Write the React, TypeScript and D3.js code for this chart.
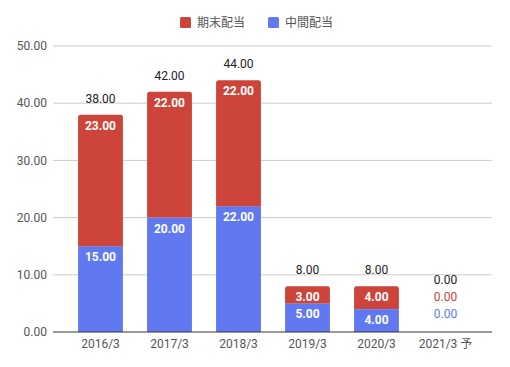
import React from 'react';
import * as d3 from 'd3';

const categories = ['2016/3', '2017/3', '2018/3', '2019/3', '2020/3', '2021/3 予'];
const interim = [15, 20, 22, 5, 4, 0]; // 中間配当
const yearEnd = [23, 22, 22, 3, 4, 0]; // 期末配当
const yTicks = [0, 10, 20, 30, 40, 50];

const RED = '#cc443a';
const BLUE = '#6079f1';
const FONT = 'Roboto, "Noto Sans CJK JP", sans-serif';

const W = 510;
const H = 367;

export default function App() {
  const x = d3.scaleBand<string>()
    .domain(categories)
    .range([66, 480])
    .paddingInner(0.35)
    .paddingOuter(0.175);
  const y = d3.scaleLinear().domain([0, 50]).range([332, 46]);

  const rows = categories.map((c, i) => ({ cat: c, interim: interim[i], yearEnd: yearEnd[i] }));
  const stack = d3.stack<any>().keys(['interim', 'yearEnd'])(rows);
  const colors: Record<string, string> = { interim: BLUE, yearEnd: RED };
  const fmt = d3.format('.2f');
  const bw = x.bandwidth();

  // top-rounded rect path
  const barPath = (x0: number, y0: number, w: number, h: number, r: number) => {
    if (h <= 0) return '';
    const rr = Math.min(r, h);
    return `M${x0},${y0 + h}V${y0 + rr}Q${x0},${y0} ${x0 + rr},${y0}H${x0 + w - rr}Q${x0 + w},${y0} ${x0 + w},${y0 + rr}V${y0 + h}Z`;
  };

  return (
    <svg width={W} height={H} style={{ position: 'absolute', left: 0, top: 0 }} fontFamily={FONT}>
      <rect width={W} height={H} fill="#fff" />
      {/* legend */}
      <g fontSize={12} fill="#555">
        <rect x={180} y={17} width={11} height={11} rx={1.5} fill={RED} />
        <text x={197} y={27}>期末配当</text>
        <rect x={268} y={17} width={11} height={11} rx={1.5} fill={BLUE} />
        <text x={285} y={27}>中間配当</text>
      </g>
      {/* grid + y labels */}
      {yTicks.map(t => (
        <g key={t}>
          {t > 0 && <line x1={53} x2={492} y1={y(t)} y2={y(t)} stroke="#cccccc" />}
          <text x={47} y={y(t)} dy="0.35em" textAnchor="end" fontSize={12} fill="#555">{fmt(t)}</text>
        </g>
      ))}
      {/* bars */}
      {stack.map((s, si) => (
        <g key={s.key}>
          {s.map((d, i) => {
            const top = si === stack.length - 1 ? true : rows[i].yearEnd === 0;
            const x0 = x(categories[i])!;
            const y1 = y(d[1]);
            const h = y(d[0]) - y1;
            return top
              ? <path key={i} d={barPath(x0, y1, bw, h, 2.5)} fill={colors[s.key]} />
              : <rect key={i} x={x0} y={y1} width={bw} height={h} fill={colors[s.key]} />;
          })}
        </g>
      ))}
      {/* segment labels */}
      {stack.map((s, si) => (
        <g key={'l' + s.key} fontSize={12}>
          {s.map((d, i) => {
            const v = d[1] - d[0];
            const cx = x(categories[i])! + bw / 2;
            if (v === 0) {
              return (
                <text key={i} x={cx} y={y(0) - 14 - si * 17} textAnchor="middle" fill={colors[s.key]}>{fmt(v)}</text>
              );
            }
            return (
              <text key={i} x={cx} y={y(d[1]) + 15} textAnchor="middle" fill="#fff" fontWeight="bold">{fmt(v)}</text>
            );
          })}
        </g>
      ))}
      {/* totals */}
      {rows.map((r, i) => {
        const total = r.interim + r.yearEnd;
        const cx = x(r.cat)! + bw / 2;
        const ty = total === 0 ? y(0) - 48 : y(total) - 12;
        return <text key={i} x={cx} y={ty} textAnchor="middle" fontSize={12} fill="#222">{fmt(total)}</text>;
      })}
      {/* baseline */}
      <line x1={53} x2={492} y1={y(0)} y2={y(0)} stroke="#333" />
      {/* x labels */}
      {categories.map(c => (
        <text key={c} x={x(c)! + bw / 2} y={348} textAnchor="middle" fontSize={12} fill="#555">{c}</text>
      ))}
    </svg>
  );
}
